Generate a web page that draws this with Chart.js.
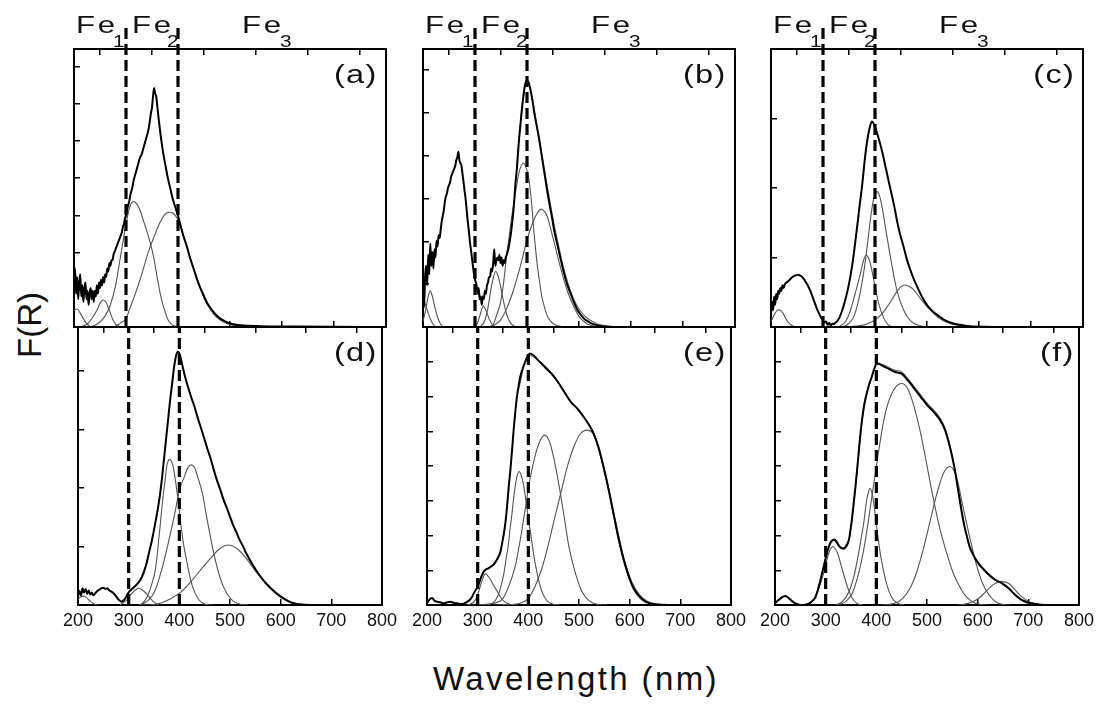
<!DOCTYPE html>
<html>
<head>
<meta charset="utf-8">
<title>F(R) spectra</title>
<script src="https://cdn.jsdelivr.net/npm/chart.js@4.4.0/dist/chart.umd.min.js"></script>
<style>
  body { margin: 0; background: #fff; }
  #page { position: relative; width: 1107px; height: 705px; overflow: hidden; background: #fff;
          font-family: "Liberation Sans", Arial, sans-serif; color: #111; }
  canvas { position: absolute; }
  .txt { position: absolute; white-space: nowrap; }
  .fe { font-size: 24px; line-height: 24px; letter-spacing: 2px; transform: scaleX(1.3); transform-origin: 0 50%; }
  .sub { font-size: 16px; line-height: 16px; transform: scaleX(1.3); transform-origin: 0 50%; }
  .letter { font-size: 25px; line-height: 25px; letter-spacing: 1px; transform: scaleX(1.3); transform-origin: 100% 50%; }
  .title { font-size: 33px; line-height: 33px; }
</style>
</head>
<body>
<div id="page">
  <div class="txt title" id="ylabel" style="left:28.6px; top:325px; transform: translate(-50%,-50%) rotate(-90deg);">F(R)</div>
  <div class="txt title" id="xlabel" style="left:576px; top:662px; transform: translateX(-50%); letter-spacing: 2.4px;">Wavelength (nm)</div>
</div>
<script>
// axis values
const x_ticks = [200, 300, 400, 500, 600, 700, 800];
const x_top_ticks = [250, 350, 450, 550, 650, 750];
const region_borders = [300, 400];          // Fe1 | Fe2 | Fe3
const region_names = ["Fe", "Fe", "Fe"];
const region_subs = ["1", "2", "3"];
const panel_letters = ["(a)", "(b)", "(c)", "(d)", "(e)", "(f)"];
const y_steps = [0.1338, 0.154, 0.25, 0.2104, 0.125, 0.125];   // spacing of the left tick marks (panel height = 1)

// ---- panel (a) ----  [wavelength nm, F(R) as fraction of panel height]
const a_meas = [[200,.16],[202,.21],[204,.12],[206,.18],[208,.10],[210,.16],[212,.19],[214,.11],[216,.15],[218,.09],[220,.14],[222,.16],[224,.10],[226,.13],[228,.08],[230,.12],[232,.14],[234,.10],[236,.13],[238,.09],[240,.13],[242,.11],[244,.15],[246,.12],[248,.16],[250,.14],[252,.17],[254,.15],[256,.18],[258,.16],[260,.19],[262,.18],[264,.21],[266,.20],[268,.23],[270,.22],[272,.24],[274,.24],[276,.26],[278,.27],[280,.28],[282,.29],[284,.30],[286,.31],[288,.32],[290,.33],[292,.34],[294,.36],[296,.37],[298,.39],[300,.40],[303,.43],[306,.45],[309,.48],[312,.50],[315,.53],[318,.55],[321,.57],[324,.59],[327,.61],[330,.62],[333,.64],[336,.66],[339,.68],[342,.70],[345,.73],[348,.77],[350,.79],[352,.83],[354,.86],[356,.84],[358,.83],[361,.78],[364,.73],[368,.67],[372,.62],[376,.58],[380,.54],[385,.50],[390,.46],[395,.43],[400,.40],[405,.365],[410,.33],[417,.29],[423,.25],[430,.21],[436,.175],[443,.14],[449,.115],[455,.09],[462,.07],[470,.05],[480,.032],[494,.017],[506,.01],[520,.006],[560,.003],[620,.002],[700,.001],[800,0]];
const a_c0 = [[200,.06],[206,.065],[212,.05],[218,.03],[224,.013],[230,.004],[236,0]];
const a_c1 = [[212,0],[220,.005],[228,.015],[236,.035],[244,.06],[250,.085],[256,.097],[262,.088],[268,.06],[274,.03],[280,.01],[288,.002],[295,0]];
const a_c2 = [[230,0],[240,.006],[250,.018],[260,.04],[270,.08],[280,.15],[290,.26],[300,.37],[307,.43],[314,.451],[320,.445],[327,.42],[334,.38],[340,.345],[347,.3],[353,.253],[358,.2],[362,.157],[367,.11],[372,.073],[377,.045],[381,.025],[386,.012],[391,.005],[400,0]];
const a_c3 = [[280,.004],[290,.015],[300,.03],[308,.07],[318,.12],[327,.17],[335,.22],[343,.27],[353,.32],[365,.375],[375,.405],[383,.413],[390,.41],[397,.395],[405,.36],[410,.33],[417,.29],[423,.25],[430,.21],[436,.175],[443,.14],[449,.11],[455,.085],[462,.063],[470,.044],[480,.027],[494,.013],[506,.006],[520,.002],[540,0]];

// ---- panel (b) ----
const b_meas = [[200,.12],[202,.07],[204,.18],[206,.22],[208,.15],[210,.26],[212,.19],[214,.30],[216,.22],[218,.27],[220,.21],[222,.28],[224,.25],[226,.31],[228,.29],[230,.33],[232,.32],[234,.35],[236,.38],[238,.40],[240,.42],[242,.45],[244,.47],[246,.48],[248,.50],[250,.51],[252,.52],[254,.54],[256,.55],[258,.56],[260,.57],[262,.58],[264,.60],[266,.61],[268,.63],[270,.60],[272,.59],[274,.58],[276,.55],[278,.52],[280,.49],[282,.46],[284,.42],[286,.38],[288,.35],[290,.31],[292,.28],[294,.25],[296,.22],[298,.19],[300,.17],[303,.15],[305,.12],[307,.14],[309,.10],[311,.11],[313,.08],[315,.11],[317,.10],[319,.13],[321,.12],[323,.15],[325,.16],[327,.18],[329,.18],[331,.21],[333,.20],[335,.23],[337,.28],[339,.22],[341,.24],[343,.25],[345,.24],[347,.26],[349,.23],[351,.25],[353,.22],[355,.24],[357,.23],[359,.25],[361,.26],[364,.28],[367,.31],[370,.35],[374,.42],[378,.52],[381,.58],[384,.66],[387,.72],[390,.78],[393,.83],[396,.87],[400,.888],[403,.88],[406,.86],[410,.82],[414,.77],[419,.72],[423,.68],[428,.62],[433,.56],[438,.5],[443,.445],[448,.395],[452,.35],[458,.3],[464,.25],[471,.195],[477,.155],[484,.12],[490,.09],[496,.065],[503,.045],[510,.03],[516,.022],[525,.012],[541,.004],[567,0],[800,0]];
const b_fit = [[380,.57],[390,.78],[400,.885],[410,.825],[420,.715],[430,.605],[440,.495],[450,.39],[460,.3],[470,.215],[480,.15],[490,.1],[500,.065],[510,.042],[520,.026],[535,.012],[550,.005],[570,0]];
const b_c0 = [[200,.10],[205,.08],[210,.05],[215,.025],[220,.008],[226,0]];
const b_c1 = [[200,.02],[205,.06],[210,.11],[214,.13],[218,.11],[223,.07],[228,.035],[234,.01],[240,0]];
const b_c2 = [[300,0],[305,.015],[310,.045],[316,.075],[321,.06],[327,.03],[333,.01],[340,0]];
const b_c3 = [[310,0],[318,.02],[325,.07],[332,.15],[340,.2],[347,.165],[354,.1],[361,.045],[368,.015],[376,.003],[383,0]];
const b_c4 = [[330,0],[335,.008],[342,.045],[348,.08],[352,.12],[357,.19],[361,.26],[366,.33],[371,.4],[376,.46],[381,.52],[386,.565],[393,.589],[398,.575],[403,.54],[407,.48],[410,.42],[413,.35],[416,.29],[420,.22],[424,.165],[428,.115],[433,.075],[439,.04],[445,.022],[452,.01],[460,.004],[470,0]];
const b_c5 = [[325,0],[336,.006],[349,.025],[361,.067],[374,.133],[387,.217],[400,.313],[413,.385],[420,.41],[427,.424],[434,.415],[439,.397],[451,.313],[464,.217],[477,.133],[490,.073],[503,.031],[516,.011],[535,.002],[550,0]];

// ---- panel (c) ----
const c_meas = [[200,.05],[202,.09],[204,.06],[206,.11],[208,.08],[210,.12],[212,.10],[214,.13],[216,.12],[218,.14],[220,.13],[222,.15],[224,.14],[227,.155],[230,.16],[233,.165],[236,.17],[240,.178],[244,.183],[248,.186],[252,.188],[256,.185],[260,.18],[264,.17],[268,.158],[272,.145],[276,.128],[280,.108],[284,.088],[288,.067],[292,.05],[296,.035],[300,.024],[303,.016],[306,.02],[309,.008],[312,.014],[315,.006],[318,.012],[321,.01],[324,.016],[327,.02],[331,.032],[336,.055],[341,.085],[346,.121],[351,.165],[356,.22],[361,.29],[365,.35],[370,.43],[375,.505],[381,.613],[385,.67],[389,.71],[394,.739],[399,.725],[404,.697],[409,.665],[413,.637],[418,.595],[423,.553],[428,.51],[433,.469],[438,.425],[442,.385],[448,.335],[455,.289],[461,.245],[468,.205],[474,.175],[481,.145],[490,.11],[500,.079],[510,.058],[520,.043],[532,.027],[545,.016],[560,.009],[577,.004],[610,.001],[650,0],[800,0]];
const c_c0 = [[200,.02],[204,.035],[208,.05],[213,.062],[218,.06],[223,.05],[228,.032],[233,.017],[239,.007],[246,0]];
const c_c1 = [[325,0],[333,.004],[343,.019],[352,.055],[362,.121],[372,.193],[378,.24],[383,.259],[387,.25],[391,.229],[399,.157],[407,.085],[417,.031],[426,.007],[435,0]];
const c_c2 = [[335,0],[346,.007],[359,.037],[368.5,.097],[378,.193],[385,.289],[391,.385],[397,.457],[404,.487],[409,.47],[413.5,.433],[423,.325],[433,.217],[442,.133],[455,.061],[468,.023],[487,.004],[500,0]];
const c_c3 = [[340,0],[365,.003],[385,.011],[404,.031],[417,.055],[430,.091],[442,.127],[450,.145],[458.5,.151],[467,.145],[475,.133],[487,.103],[500,.073],[520,.037],[539,.016],[565,.004],[590,0]];

// ---- panel (d) ----
const d_meas = [[200,.03],[203,.05],[206,.035],[209,.06],[212,.045],[215,.058],[218,.04],[221,.052],[224,.038],[227,.045],[230,.035],[234,.042],[238,.05],[242,.055],[246,.06],[250,.062],[254,.058],[258,.06],[262,.052],[266,.048],[270,.042],[274,.034],[278,.024],[282,.016],[286,.012],[290,.016],[294,.026],[298,.04],[302,.05],[308,.06],[314,.07],[320,.082],[326,.1],[332,.13],[336,.155],[340,.187],[346,.234],[352,.29],[357,.34],[362,.4],[366,.46],[370,.53],[374,.6],[378,.67],[382,.74],[386,.8],[390,.86],[394,.9],[397,.911],[401,.9],[405,.87],[410,.83],[417,.785],[423,.75],[430,.713],[436,.675],[442,.641],[449,.6],[455,.564],[462,.525],[468,.486],[474,.45],[481,.414],[487,.38],[494,.348],[500,.318],[506,.288],[513,.26],[519,.234],[526,.21],[532,.186],[545,.144],[558,.108],[570,.08],[590,.045],[609,.02],[622,.008],[635,.003],[660,0],[800,0]];
const d_c0 = [[200,.02],[206,.03],[212,.032],[218,.025],[225,.012],[232,.004],[240,0]];
const d_c1 = [[282,0],[288,.006],[295,.016],[301,.03],[308,.045],[314,.055],[320,.06],[326,.055],[333,.045],[340,.03],[349,.012],[359,0]];
const d_c2 = [[320,0],[327,.006],[336.5,.03],[346,.078],[352,.12],[356,.174],[359,.23],[362,.282],[365.5,.35],[368.6,.402],[372,.45],[375,.498],[381,.524],[387.8,.498],[394,.426],[400.6,.33],[407,.234],[416.7,.138],[426,.066],[439,.018],[452,.002],[465,0]];
const d_c3 = [[320,0],[327,.004],[339.7,.018],[352.6,.054],[365,.126],[378,.222],[391,.33],[400.6,.414],[410,.462],[417,.495],[423,.504],[430,.495],[436,.462],[445.5,.402],[455,.306],[468,.186],[480.8,.096],[493.6,.042],[506,.014],[522,.002],[535,0]];
const d_c4 = [[330,0],[346,.001],[365,.008],[384.6,.024],[404,.048],[423,.084],[442,.126],[461.5,.168],[480.8,.204],[496.8,.216],[512.8,.204],[532,.168],[551,.12],[570.5,.078],[589.7,.042],[609,.018],[634.6,.004],[660,0]];

// ---- panel (e) ----
const e_meas = [[200,.006],[205,.02],[210,.025],[215,.015],[220,.012],[226,.01],[233,.006],[240,.01],[246,.012],[252,.008],[258,.006],[265,.004],[271,.004],[278,.01],[284,.018],[289,.03],[294,.048],[300,.066],[306.8,.1],[312,.12],[316.4,.128],[321,.132],[326,.138],[331,.145],[335.7,.156],[340,.17],[345,.192],[348,.22],[351.8,.258],[355,.3],[358,.354],[361,.42],[364.6,.486],[368,.56],[371,.63],[374,.69],[377.5,.749],[381,.79],[384,.821],[390,.857],[396.8,.887],[403,.905],[409.6,.899],[419,.881],[432,.857],[445,.833],[458,.803],[470.7,.767],[483.6,.731],[496.5,.707],[509,.677],[519,.65],[528,.62],[538,.57],[548,.5],[558,.42],[568,.33],[578,.24],[588,.165],[598,.105],[608,.06],[620,.03],[632,.012],[645,.004],[665,.001],[690,0],[800,0]];
const e_fit = [[380,.77],[400,.9],[420,.88],[450,.826],[480,.742],[510,.675],[530,.615],[550,.49],[570,.32],[590,.158],[605,.08],[620,.036],[635,.014],[650,.005],[670,.001],[700,0]];
const e_c1 = [[280,0],[290.7,.008],[296,.02],[300,.036],[306.8,.078],[311,.1],[315,.112],[320,.105],[326,.09],[332,.068],[339,.048],[345,.028],[351.8,.014],[358,.006],[364.6,.002],[372,0]];
const e_c2 = [[320,0],[329,.006],[336,.02],[342,.042],[347,.075],[351.8,.114],[356,.165],[361,.222],[364,.275],[367.8,.33],[371,.385],[374,.426],[378,.465],[382,.48],[386,.465],[390,.438],[396.8,.354],[401,.3],[406.4,.234],[411,.175],[416,.126],[420,.09],[425.7,.054],[432,.028],[438.6,.012],[451,.002],[462,0]];
const e_c3 = [[300,0],[330,.006],[348.6,.02],[361,.066],[374,.138],[384,.234],[393.6,.342],[403,.45],[413,.534],[422.5,.588],[432,.611],[441.8,.588],[451,.522],[461,.426],[470.7,.318],[480,.21],[493,.114],[506,.048],[522,.012],[541.5,.001],[555,0]];
const e_c4 = [[340,0],[370,.002],[387,.008],[400,.024],[412.9,.066],[425.7,.126],[438.6,.21],[451,.306],[464,.402],[477,.498],[490,.57],[503,.617],[516,.629],[528,.615],[538,.565],[548,.495],[558,.415],[568,.325],[578,.235],[588,.16],[598,.1],[608,.055],[620,.025],[632,.009],[650,.002],[670,0]];

// ---- panel (f) ----
const f_meas = [[200,.006],[205,.015],[211,.024],[216,.03],[220.6,.032],[225,.028],[230,.02],[235,.012],[240,.006],[246,.002],[252.7,0],[259,.001],[265.6,.004],[272,.012],[278.5,.024],[283,.045],[288,.078],[293,.115],[297.7,.15],[304,.198],[310.6,.228],[317,.236],[322,.226],[326.7,.212],[331,.205],[336,.204],[341,.214],[346,.236],[349,.27],[352.4,.318],[355.5,.37],[358.8,.426],[362,.486],[365,.546],[368,.605],[371.7,.665],[376,.72],[381,.761],[386,.795],[391,.821],[396,.85],[400.6,.869],[405,.868],[410,.863],[423,.851],[436,.839],[449,.833],[455,.824],[461.7,.809],[468,.795],[474.6,.779],[487.5,.749],[500.3,.719],[513,.695],[526,.665],[535.7,.629],[545,.57],[550,.53],[555,.486],[560,.43],[564.6,.378],[569,.33],[574,.282],[579,.245],[584,.21],[590,.185],[596.8,.162],[603,.145],[609.6,.132],[622.5,.108],[635,.09],[648,.078],[661,.06],[674,.036],[687,.018],[697,.01],[706,.006],[725,.001],[740,0],[800,0]];
const f_fit = [[280,.025],[290,.09],[300,.17],[310,.225],[317,.232],[326,.21],[336,.2],[346,.232],[352,.31],[358.8,.42],[365,.54],[371.7,.66],[381,.758],[391,.818],[400,.865],[410,.866],[423,.856],[436,.845],[449,.84],[461.7,.815],[474.6,.786],[487.5,.756],[500.3,.726],[513,.702],[526,.672],[535.7,.635],[545,.575],[555,.49],[564.6,.38],[574,.284],[584,.212],[597,.165],[610,.134],[623,.11],[635,.092],[648,.08],[661,.062],[674,.038],[687,.02],[706,.007],[725,.001],[740,0]];
const f_c1 = [[260,0],[268.8,.006],[278.5,.024],[288,.066],[297.7,.126],[304,.174],[309,.2],[314,.21],[318,.204],[323.5,.186],[333,.126],[342.8,.066],[352.4,.024],[362,.006],[372,0]];
const f_c2 = [[320,0],[333,.012],[346,.048],[355.6,.102],[365,.186],[370,.24],[375,.294],[381,.378],[385,.41],[388,.42],[391,.405],[394,.378],[400.6,.282],[405,.22],[410,.162],[420,.078],[429.6,.03],[442,.006],[455,0]];
const f_c3 = [[320,0],[339.5,.012],[352.4,.042],[365,.114],[375,.198],[384.6,.306],[394,.426],[404,.546],[413.5,.653],[423,.725],[436,.779],[450,.797],[461.7,.779],[474.6,.713],[487.5,.617],[500.3,.498],[513,.378],[526,.27],[539,.186],[551.8,.114],[564.6,.066],[577.5,.03],[593.6,.008],[609.6,.001],[620,0]];
const f_c4 = [[410,0],[436,.006],[452,.024],[468,.066],[481,.126],[494,.21],[506.8,.306],[519.6,.402],[532.5,.474],[545,.498],[558,.462],[571,.354],[584,.246],[596.8,.15],[609.6,.078],[622.5,.036],[638.6,.008],[654.7,.001],[665,0]];
const f_c5 = [[560,0],[577.5,.004],[597,.018],[609.6,.036],[622.5,.06],[635,.078],[648,.084],[661,.078],[674,.054],[687,.03],[703,.01],[719,.001],[730,0]];

// layout of the 2x3 grid (page pixels)
const col_left = [74, 423, 771];
const row_top = [49, 327];
const panel_w = 312, panel_h = 278;
const label_h = 35;       // room for the wavelength numbers under the bottom row
const dash_top = 1.086;   // dashed lines run up into the Fe labels on the top row

const panels = [
    { meas: a_meas, fit: null,  comps: [a_c0, a_c1, a_c2, a_c3] },
    { meas: b_meas, fit: b_fit, comps: [b_c0, b_c1, b_c2, b_c3, b_c4, b_c5] },
    { meas: c_meas, fit: null,  comps: [c_c0, c_c1, c_c2, c_c3] },
    { meas: d_meas, fit: null,  comps: [d_c0, d_c1, d_c2, d_c3, d_c4] },
    { meas: e_meas, fit: e_fit, comps: [e_c1, e_c2, e_c3, e_c4] },
    { meas: f_meas, fit: f_fit, comps: [f_c1, f_c2, f_c3, f_c4, f_c5] },
];

const page = document.getElementById("page");
const font_family = '"Liberation Sans", Arial, sans-serif';
Chart.defaults.font.family = font_family;
Chart.defaults.font.size = 18;
Chart.defaults.color = "#111";

function toXY(arr) {
    return arr.map((p) => ({ x: p[0], y: p[1] }));
}

function addText(cls, text, css) {
    const el = document.createElement("div");
    el.className = "txt " + cls;
    el.textContent = text;
    Object.assign(el.style, css);
    page.appendChild(el);
}

panels.forEach((p, i) => {
    const col = i % 3, row = Math.floor(i / 3);
    // the bottom x scale keeps label_h of height on the lower row, so its numbers are not clipped
    const x_h = row == 0 ? 0 : label_h;
    const pad = { left: 22, right: 22, top: row == 0 ? 49 : 3, bottom: row == 0 ? 3 : 12 };

    const canvas = document.createElement("canvas");
    canvas.width = panel_w + pad.left + pad.right;
    canvas.height = panel_h + pad.top + pad.bottom + x_h;
    canvas.style.left = (col_left[col] - pad.left) + "px";
    canvas.style.top = (row_top[row] - pad.top) + "px";
    page.appendChild(canvas);

    let datasets = [];
    // dashed region borders first so they are painted on top
    region_borders.forEach((wl) => {
        datasets.push({
            data: [{ x: wl, y: 0 }, { x: wl, y: row == 0 ? dash_top : 1 }],
            borderColor: "#000", borderWidth: 3.2, borderDash: [11, 5],
            tension: 0, cubicInterpolationMode: "default", clip: false,
        });
    });
    datasets.push({ data: toXY(p.meas), borderColor: "#000", borderWidth: 2 });
    if (p.fit) datasets.push({ data: toXY(p.fit), borderColor: "#666", borderWidth: 1.1 });
    p.comps.forEach((c) => {
        datasets.push({ data: toXY(c), borderColor: "#555", borderWidth: 1.1 });
    });

    const frame = { display: true, color: "#000", width: 2 };
    const tick_marks = { drawOnChartArea: false, drawTicks: true, tickLength: -6, color: "#000", lineWidth: 1.5 };

    new Chart(canvas, {
        type: "line",
        data: { datasets: datasets },
        options: {
            responsive: false,
            animation: false,
            devicePixelRatio: 1,
            layout: { padding: pad },
            plugins: { legend: { display: false }, tooltip: { enabled: false } },
            elements: { point: { radius: 0 }, line: { cubicInterpolationMode: "monotone", fill: false } },
            scales: {
                x: {
                    type: "linear", position: "bottom", min: 200, max: 800,
                    afterFit: (s) => { s.height = x_h; },
                    afterBuildTicks: (s) => { s.ticks = x_ticks.map((v) => ({ value: v })); },
                    ticks: { display: row == 1, autoSkip: false, maxRotation: 0, padding: 11, color: "#111",
                             font: { family: font_family, size: 18 } },
                    grid: tick_marks, border: frame,
                },
                xt: {
                    type: "linear", position: "top", min: 200, max: 800,
                    afterFit: (s) => { s.height = 0; },
                    afterBuildTicks: (s) => { s.ticks = x_top_ticks.map((v) => ({ value: v })); },
                    ticks: { display: false },
                    grid: tick_marks, border: frame,
                },
                y: {
                    type: "linear", position: "left", min: 0, max: 1,
                    afterFit: (s) => { s.width = 0; },
                    ticks: { display: false, stepSize: y_steps[i], includeBounds: false },
                    grid: tick_marks, border: frame,
                },
                yr: {
                    type: "linear", position: "right", min: 0, max: 1,
                    afterFit: (s) => { s.width = 0; },
                    ticks: { display: false },
                    grid: { display: false }, border: frame,
                },
            },
        },
    });

    // panel letter, top right inside the frame
    addText("letter", panel_letters[i], {
        right: (1107 - (col_left[col] + panel_w - 8)) + "px",
        top: (row_top[row] + 13) + "px",
    });

    // Fe region labels above the top row
    if (row == 0) {
        const name_dx = [2, 58, 168], sub_dx = [39, 93, 206];
        region_names.forEach((nm, k) => {
            addText("fe", nm, { left: (col_left[col] + name_dx[k]) + "px", top: "13px" });
            addText("sub", region_subs[k], { left: (col_left[col] + sub_dx[k]) + "px", top: "33.5px" });
        });
    }
});
</script>
</body>
</html>
